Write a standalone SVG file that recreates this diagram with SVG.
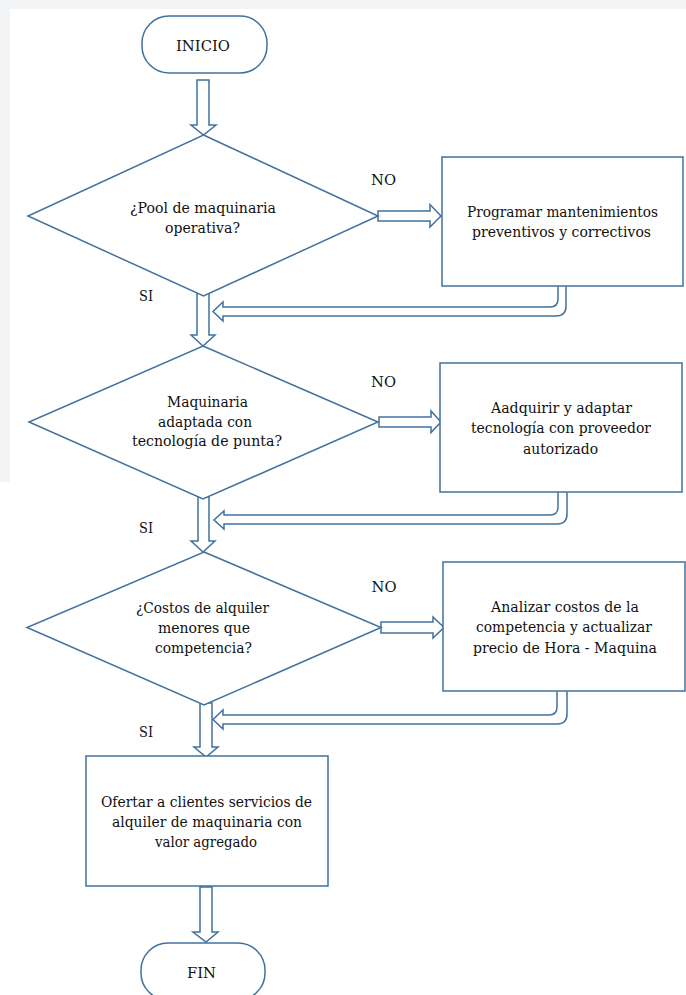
<svg xmlns="http://www.w3.org/2000/svg" width="686" height="995" viewBox="0 0 686 995">
<defs>
<style>
.s{fill:#ffffff;stroke:#41719c;stroke-width:1.5;stroke-linejoin:miter}
.t{font-family:'DejaVu Serif',serif;font-size:15.5px;fill:#111111;text-anchor:middle}
</style>
</defs>
<rect x="0" y="0" width="686" height="995" fill="#ffffff"/>
<rect x="0" y="0" width="686" height="9" fill="#f3f4f6"/>
<rect x="0" y="0" width="10" height="482" fill="#f3f4f6"/>

<g id="connectors">
<polygon class="s" points="197,80 209,80 209,125 216,125 203.5,135 191,125 197,125"/>
<polygon class="s" points="378,211 430,211 430,204.5 441,216 430,227 430,221 378,221"/>
<path class="s" d="M566,286.5 V306 Q566,316 556,316 H223 V321 L213,311.5 L223,302 V307 H550 Q558,307 558,299 V286.5"/>
<polygon class="s" points="197,291 209,291 209,335 215,335 203,346 191,335 197,335"/>
<polygon class="s" points="379,417 431,417 431,411 441,422 431,432.5 431,427 379,427"/>
<path class="s" d="M567,492.5 V514 Q567,524 557,524 H224 V529 L214,520 L224,511 V515 H550 Q558,515 558,507 V492.5"/>
<polygon class="s" points="198,497 209,497 209,541 215,541 203,552 191,541 198,541"/>
<polygon class="s" points="381,622 433,622 433,617 444,627.5 433,638 433,633 381,633"/>
<path class="s" d="M567,691.5 V714 Q567,724 557,724 H223 V729 L213,719.5 L223,710 V715 H549 Q557,715 557,707 V691.5"/>
<polygon class="s" points="200,703 212,703 212,747 218,747 206,757 194,747 200,747"/>
<polygon class="s" points="200,887 212,887 212,932 218,932 206,942 193,932 200,932"/>
</g>

<g id="inicio">
<rect class="s" x="142" y="16" width="125" height="57" rx="27" ry="27"/>
<text class="t" x="203" y="51" textLength="54" lengthAdjust="spacingAndGlyphs">INICIO</text>
</g>

<g id="decision1">
<polygon class="s" points="203.5,135 378,216 203.5,296 28,216"/>
<text class="t" x="203" y="213" textLength="146" lengthAdjust="spacingAndGlyphs">¿Pool de maquinaria</text>
<text class="t" x="202.5" y="233" textLength="75" lengthAdjust="spacingAndGlyphs">operativa?</text>
</g>

<g id="label-no1"><text class="t" x="383.5" y="185" textLength="25" lengthAdjust="spacingAndGlyphs">NO</text></g>
<g id="label-si1"><text class="t" x="146" y="301" textLength="14" lengthAdjust="spacingAndGlyphs">SI</text></g>

<g id="proceso1">
<rect class="s" x="442" y="157" width="241" height="129"/>
<text class="t" x="562.5" y="217" textLength="191" lengthAdjust="spacingAndGlyphs">Programar mantenimientos</text>
<text class="t" x="561.5" y="237" textLength="179" lengthAdjust="spacingAndGlyphs">preventivos y correctivos</text>
</g>

<g id="decision2">
<polygon class="s" points="203,346 378,422 203,499 29,422"/>
<text class="t" x="207.5" y="407" textLength="81" lengthAdjust="spacingAndGlyphs">Maquinaria</text>
<text class="t" x="205" y="427" textLength="94" lengthAdjust="spacingAndGlyphs">adaptada con</text>
<text class="t" x="207" y="446" textLength="150" lengthAdjust="spacingAndGlyphs">tecnología de punta?</text>
</g>

<g id="label-no2"><text class="t" x="383.5" y="387" textLength="25" lengthAdjust="spacingAndGlyphs">NO</text></g>
<g id="label-si2"><text class="t" x="146" y="533" textLength="14" lengthAdjust="spacingAndGlyphs">SI</text></g>

<g id="proceso2">
<rect class="s" x="440" y="363" width="242" height="129"/>
<text class="t" x="561.5" y="413" textLength="141" lengthAdjust="spacingAndGlyphs">Aadquirir y adaptar</text>
<text class="t" x="561" y="433" textLength="180" lengthAdjust="spacingAndGlyphs">tecnología con proveedor</text>
<text class="t" x="560.5" y="454" textLength="75" lengthAdjust="spacingAndGlyphs">autorizado</text>
</g>

<g id="decision3">
<polygon class="s" points="204,552 381,627.5 204,705 27,627.5"/>
<text class="t" x="202.5" y="613" textLength="133" lengthAdjust="spacingAndGlyphs">¿Costos de alquiler</text>
<text class="t" x="204" y="633" textLength="92" lengthAdjust="spacingAndGlyphs">menores que</text>
<text class="t" x="203.5" y="653" textLength="97" lengthAdjust="spacingAndGlyphs">competencia?</text>
</g>

<g id="label-no3"><text class="t" x="384" y="592" textLength="25" lengthAdjust="spacingAndGlyphs">NO</text></g>
<g id="label-si3"><text class="t" x="146" y="737" textLength="14" lengthAdjust="spacingAndGlyphs">SI</text></g>

<g id="proceso3">
<rect class="s" x="443" y="562" width="242" height="129"/>
<text class="t" x="565" y="612" textLength="148" lengthAdjust="spacingAndGlyphs">Analizar costos de la</text>
<text class="t" x="564" y="632" textLength="176" lengthAdjust="spacingAndGlyphs">competencia y actualizar</text>
<text class="t" x="565" y="653" textLength="184" lengthAdjust="spacingAndGlyphs">precio de Hora - Maquina</text>
</g>

<g id="ofertar">
<rect class="s" x="86" y="756" width="242" height="130"/>
<text class="t" x="206.5" y="807" textLength="211" lengthAdjust="spacingAndGlyphs">Ofertar a clientes servicios de</text>
<text class="t" x="207" y="827" textLength="190" lengthAdjust="spacingAndGlyphs">alquiler de maquinaria con</text>
<text class="t" x="206" y="847" textLength="102" lengthAdjust="spacingAndGlyphs">valor agregado</text>
</g>

<g id="fin">
<rect class="s" x="141" y="943" width="124" height="57" rx="27" ry="27"/>
<text class="t" x="201.5" y="978" textLength="29" lengthAdjust="spacingAndGlyphs">FIN</text>
</g>
</svg>
